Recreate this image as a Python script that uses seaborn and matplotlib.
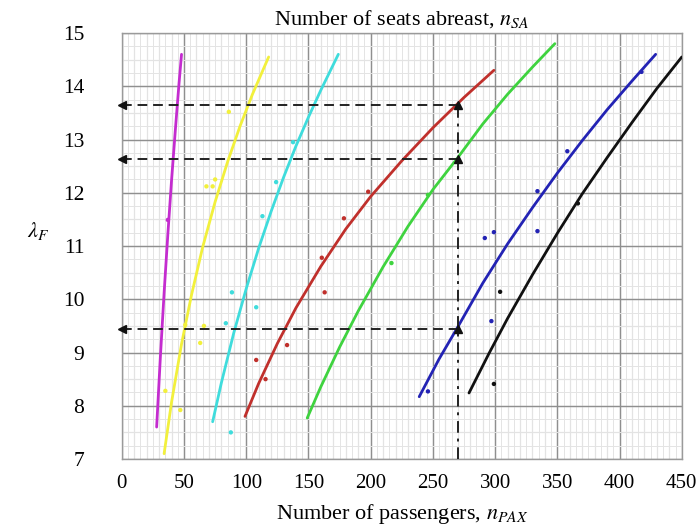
import numpy as np
import pandas as pd
import matplotlib
matplotlib.use('Agg')
import matplotlib.pyplot as plt
from matplotlib.ticker import MultipleLocator
import seaborn as sns

# fitted curves, one per seats-abreast group
mag_x = [28, 31, 34, 37, 40, 43, 46, 48]
mag_y = [7.6, 8.92, 10.12, 11.22, 12.24, 13.17, 14.06, 14.6]
yel_x = [34, 40, 48, 56, 65, 75, 85, 95, 105, 118]
yel_y = [7.1, 8.07, 9.16, 10.08, 10.98, 11.83, 12.58, 13.25, 13.85, 14.55]
cya_x = [73, 80, 90, 100, 110, 120, 130, 140, 150, 160, 174]
cya_y = [7.7, 8.43, 9.37, 10.2, 10.96, 11.65, 12.29, 12.88, 13.42, 13.93, 14.6]
red_x = [99, 110, 125, 140, 160, 180, 200, 225, 250, 275, 299]
red_y = [7.8, 8.42, 9.17, 9.84, 10.62, 11.32, 11.93, 12.6, 13.22, 13.79, 14.3]
grn_x = [149, 160, 175, 190, 210, 230, 250, 270, 290, 310, 330, 348]
grn_y = [7.77, 8.36, 9.1, 9.78, 10.61, 11.37, 12.06, 12.66, 13.29, 13.85, 14.36, 14.8]
blu_x = [239, 255, 270, 290, 310, 330, 350, 370, 390, 410, 429]
blu_y = [8.17, 8.88, 9.48, 10.3, 11.04, 11.72, 12.37, 12.98, 13.56, 14.1, 14.6]
blk_x = [279, 295, 310, 330, 350, 370, 390, 410, 430, 450]
blk_y = [8.24, 8.98, 9.64, 10.46, 11.24, 11.98, 12.66, 13.32, 13.96, 14.55]

# data points
mag_px = [37]
mag_py = [11.49]
yel_px = [86, 68, 73, 75, 35, 47, 63, 51, 66]
yel_py = [13.52, 12.12, 12.12, 12.25, 8.28, 7.92, 9.18, 9.52, 9.5]
cya_px = [137.6, 124, 113, 88.5, 108, 83.6, 87.6]
cya_py = [12.95, 12.2, 11.56, 10.13, 9.85, 9.55, 7.5]
red_px = [178.5, 160.7, 163, 108, 115.5, 132.8, 198]
red_py = [11.52, 10.78, 10.13, 8.86, 8.5, 9.14, 12.02]
grn_px = [246, 216.7]
grn_py = [11.96, 10.68]
blu_px = [291.7, 299, 334, 334, 358, 417.6, 246, 297]
blu_py = [11.15, 11.26, 12.03, 11.28, 12.78, 14.27, 8.27, 9.59]
blk_px = [366.5, 304, 299]
blk_py = [11.8, 10.14, 8.41]

# reading example
read_x = 270
read_y = [9.45, 12.63, 13.65]

groups = ['mag', 'yel', 'cya', 'red', 'grn', 'blu', 'blk']
colors = {'mag': '#c42ccf', 'yel': '#f2f03c', 'cya': '#3fdcdc', 'red': '#c0302c',
          'grn': '#3fd33f', 'blu': '#2323b4', 'blk': '#111111'}

curve_xs = [mag_x, yel_x, cya_x, red_x, grn_x, blu_x, blk_x]
curve_ys = [mag_y, yel_y, cya_y, red_y, grn_y, blu_y, blk_y]
pt_xs = [mag_px, yel_px, cya_px, red_px, grn_px, blu_px, blk_px]
pt_ys = [mag_py, yel_py, cya_py, red_py, grn_py, blu_py, blk_py]

curves = pd.concat([pd.DataFrame({'n_pax': cx, 'lam': cy, 'grp': g})
                    for g, cx, cy in zip(groups, curve_xs, curve_ys)], ignore_index=True)
points = pd.concat([pd.DataFrame({'n_pax': px, 'lam': py, 'grp': g})
                    for g, px, py in zip(groups, pt_xs, pt_ys)], ignore_index=True)

sns.set_style('white')
plt.rcParams['font.family'] = ['Liberation Serif', 'DejaVu Serif']
plt.rcParams['mathtext.fontset'] = 'stix'
plt.rcParams['text.color'] = 'black'
plt.rcParams['xtick.color'] = 'black'
plt.rcParams['ytick.color'] = 'black'
plt.rcParams['axes.labelcolor'] = 'black'

fig = plt.figure(figsize=(7, 5.29), dpi=100)
ax = fig.add_axes([0.174, 0.1323, 0.80, 0.8053])

ax.set_xlim(0, 450)
ax.set_ylim(7, 15)

# layered grid like graph paper
ax.xaxis.set_major_locator(MultipleLocator(50))
ax.yaxis.set_major_locator(MultipleLocator(1))
ax.xaxis.set_minor_locator(MultipleLocator(5))
ax.yaxis.set_minor_locator(MultipleLocator(0.25))
ax.grid(which='minor', color='#e4e4e4', lw=0.7)
ax.vlines(np.arange(10, 450, 10), 7, 15, color='#c8c8c8', lw=0.8, zorder=0.5)
ax.hlines(np.arange(7.5, 15, 0.5), 0, 450, color='#c8c8c8', lw=0.8, zorder=0.5)
ax.grid(which='major', color='#8f8f8f', lw=1.0)
ax.set_axisbelow(True)
for s in ax.spines.values():
    s.set_color('#9a9a9a')
    s.set_linewidth(1.0)

sns.lineplot(data=curves, x='n_pax', y='lam', hue='grp', palette=colors,
             estimator=None, sort=False, legend=False, lw=2, ax=ax, zorder=3)
sns.scatterplot(data=points, x='n_pax', y='lam', hue='grp', palette=colors,
                s=10, linewidth=0, legend=False, ax=ax, zorder=3)

# dashed reading lines
ax.plot([read_x, read_x], [7, max(read_y)], color='#222222', ls=(0, (6, 3, 1.5, 3)),
        lw=1.4, zorder=4)
for ry in read_y:
    ax.plot([0, read_x], [ry, ry], color='#222222', ls=(0, (5, 3)), lw=1.4, zorder=4)
    ax.plot([0], [ry], marker='<', color='#111111', ms=6, clip_on=False, zorder=5)
    ax.plot([read_x], [ry], marker='^', color='#111111', ms=6, zorder=5)

ax.tick_params(which='both', length=0)
ax.tick_params(axis='y', pad=27, labelsize=15.5)
ax.tick_params(axis='x', pad=11, labelsize=15)

ax.set_title('Number of seats abreast, $n_{SA}$', fontsize=16, pad=6)
ax.set_xlabel('Number of passengers, $n_{PAX}$', fontsize=16, labelpad=6)
ax.set_ylabel('$\\lambda_F$', fontsize=16, rotation=0)
ax.yaxis.set_label_coords(-0.15, 0.51)

plt.savefig('out.png', dpi=100)
